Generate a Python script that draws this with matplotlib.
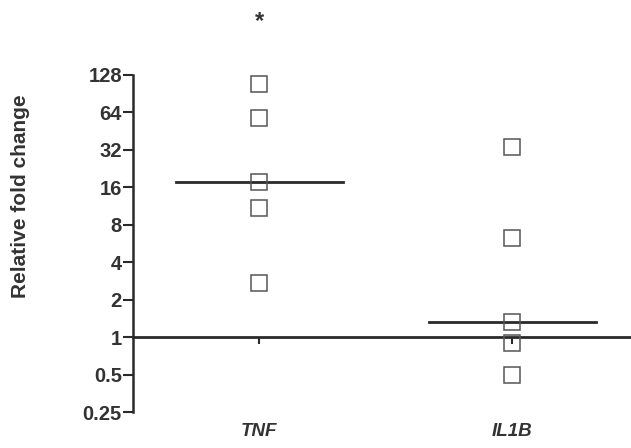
import numpy as np
import matplotlib
matplotlib.use("Agg")
import matplotlib.pyplot as plt
import matplotlib.transforms as mtransforms

plt.rcParams['font.family'] = ['Liberation Sans', 'DejaVu Sans']

# fold change per gene (log2 scale)
genes = ['TNF', 'IL1B']
tnf_fold = [109, 58, 17.5, 11, 2.7]
il1b_fold = [34, 6.3, 1.32, 0.9, 0.5]
yticks = [0.25, 0.5, 1, 2, 4, 8, 16, 32, 64, 128]
ytick_labels = ['0.25', '0.5', '1', '2', '4', '8', '16', '32', '64', '128']
signif = ['*', '']

fig = plt.figure(figsize=(6.31, 4.48), dpi=100)
ax = fig.add_axes([133/631, 1 - 412/448, 1 - 133/631, 337/448])

groups = [tnf_fold, il1b_fold]
for i, vals in enumerate(groups):
    ax.plot([i] * len(vals), vals, ls='none', marker='s', ms=11,
            mfc='none', mec='#555555', mew=1.1, clip_on=False, zorder=3)
    med = np.median(vals)
    ax.plot([i - 0.33, i + 0.33], [med, med], color='#2a2a2a', lw=2, zorder=2)
    if signif[i]:
        trans = mtransforms.blended_transform_factory(ax.transData, ax.transAxes)
        ax.text(i, 1.16, signif[i], transform=trans, ha='center', va='center',
                fontsize=17, fontweight='bold', color='#333333')

ax.set_yscale('log', base=2)
ax.set_ylim(0.25, 128)
ax.set_xlim(-0.5, 1.47)
ax.set_yticks(yticks)
ax.set_yticklabels(ytick_labels, fontweight='bold')
ax.minorticks_off()
ax.tick_params(axis='y', direction='out', length=7, width=1.5, color='#2a2a2a',
               labelsize=14.5, labelcolor='#333333', pad=1)

# x axis sits on the 1-fold line
ax.spines['bottom'].set_position(('data', 1))
ax.spines['bottom'].set_linewidth(2)
ax.spines['bottom'].set_color('#2a2a2a')
ax.spines['left'].set_linewidth(1.8)
ax.spines['left'].set_color('#2a2a2a')
ax.spines['top'].set_visible(False)
ax.spines['right'].set_visible(False)
ax.set_xticks([0, 1])
ax.set_xticklabels(genes, fontstyle='italic', fontweight='bold', fontsize=13.5,
                   color='#333333')
ax.tick_params(axis='x', direction='out', length=5, width=1.5, color='#2a2a2a', pad=57)

fig.text(21/631, 1 - 196/448, 'Relative fold change', rotation=90,
         ha='center', va='center', fontsize=15, fontweight='bold', color='#333333')

fig.savefig('out.png', dpi=100)
